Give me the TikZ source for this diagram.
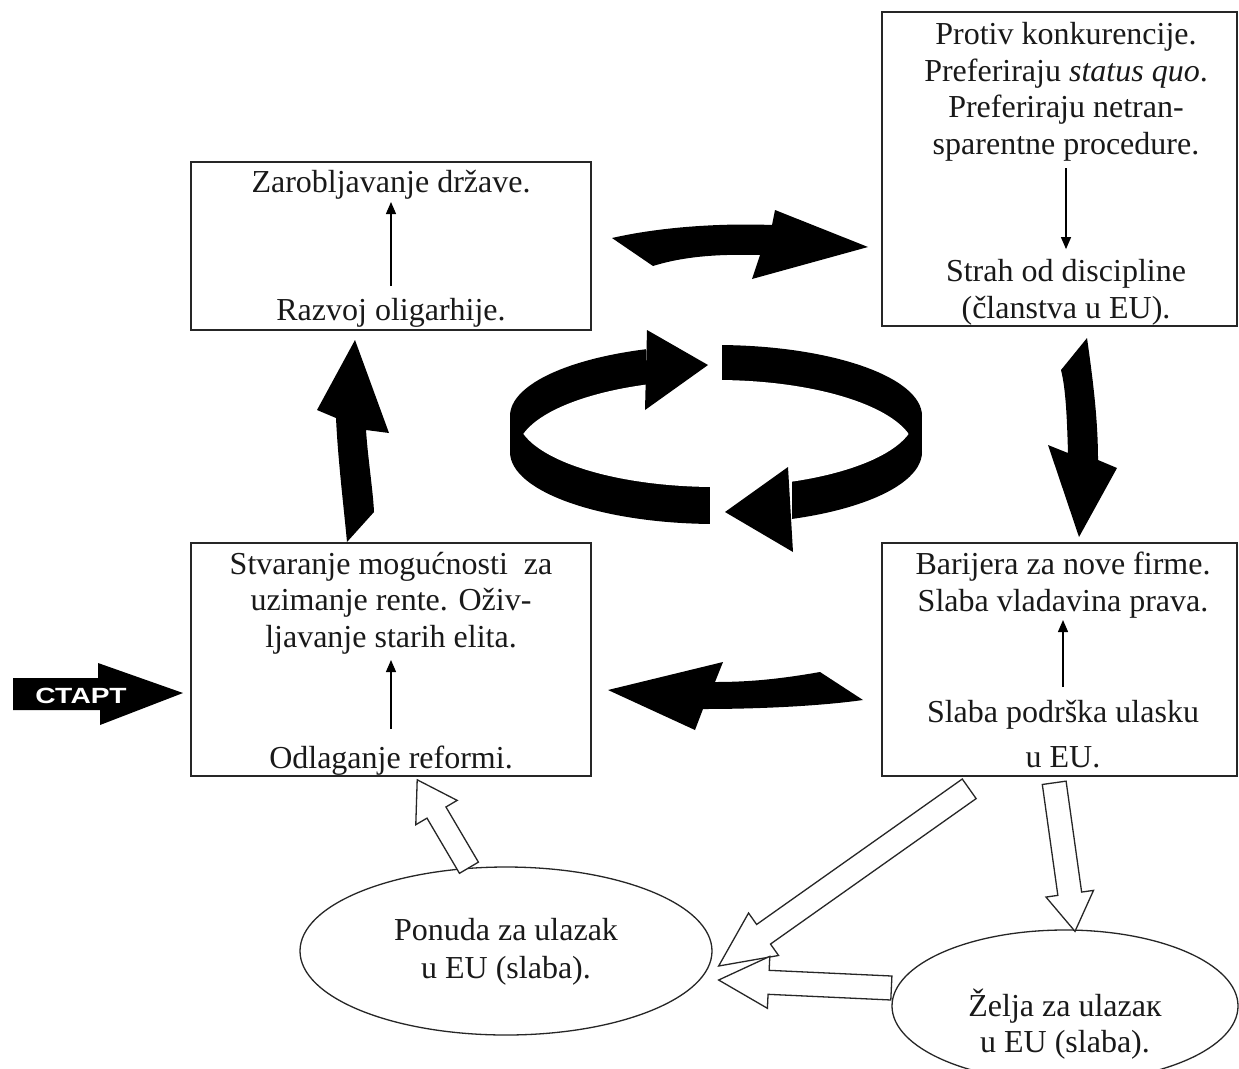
\documentclass[tikz,border=0pt]{standalone}
\usepackage{fontspec}
\setmainfont{Liberation Serif}
\newfontfamily\startfont{Liberation Sans}
\usepackage{graphicx}
\usetikzlibrary{calc,shapes.geometric,arrows.meta}

\tikzset{
  box/.style={draw=black!85, line width=1.6pt, rectangle, inner sep=0pt},
  oval/.style={draw=black!85, line width=1.3pt, ellipse, inner sep=0pt},
  txt/.style={font=\fontsize{32}{37}\selectfont, text=black!90, inner sep=0pt, anchor=base},
  sarrow/.style={line width=1.3pt, -{Triangle[length=12pt,width=10pt]}},
  hollow/.style={draw=black!85, line width=1.3pt, fill=white, line join=miter},
  solidarrow/.style={fill=black},
}

% #1 tail coordinate, #2 tip coordinate, #3 shaft half width, #4 head half width, #5 head length
\newcommand{\hollowarr}[5]{%
  \coordinate (ba-p) at ($#2!#5!#1$);
  \draw[hollow] ($#1!#3!90:#2$) -- ($(ba-p)!#3!90:#2$) -- ($(ba-p)!#4!90:#2$) -- #2
    -- ($(ba-p)!#4!-90:#2$) -- ($(ba-p)!#3!-90:#2$) -- ($#1!#3!-90:#2$) -- cycle;}

\begin{document}
\begin{tikzpicture}[x=1pt,y=-1pt]
\useasboundingbox (0,0) rectangle (1239,1068);
\fill[white] (0,0) rectangle (1239,1068);

% ---------- boxes ----------
\node[box, minimum width=400pt, minimum height=168pt] (A) at (391,246) {};
\node[box, minimum width=355pt, minimum height=314pt] (B) at (1059.5,169) {};
\node[box, minimum width=400pt, minimum height=233pt] (C) at (391,659.5) {};
\node[box, minimum width=355pt, minimum height=233pt] (D) at (1059.5,659.5) {};

% ---------- ellipses ----------
\node[oval, minimum width=412pt, minimum height=168pt] (E1) at (506,951) {};
\node[oval, minimum width=346pt, minimum height=152pt] (E2) at (1065,1006) {};

% ---------- texts ----------
\node[txt] (a1) at (391,192) {Zarobljavanje države.};
\node[txt] (a2) at (391,320) {Razvoj oligarhije.};
\draw[sarrow] ([yshift=11.5pt]a2.north) -- ([yshift=-3pt]a1.south);

\node[txt] (b1) at (1066,44) {Protiv konkurencije.};
\node[txt] (b2) at (1066,81) {Preferiraju \textit{status quo}.};
\node[txt] (b3) at (1066,117) {Preferiraju netran-};
\node[txt] (b4) at (1066,154) {sparentne procedure.};
\node[txt] (b5) at (1066,281) {Strah od discipline};
\node[txt] (b6) at (1066,318) {(članstva u EU).};
\draw[sarrow] ([yshift=-7pt]b4.south) -- ([yshift=9.5pt]b5.north);

\node[txt] (c1) at (391,574) {Stvaranje mogućnosti\ \ za};
\node[txt] (c2) at (391,610) {uzimanje rente. Oživ-};
\node[txt] (c3) at (391,647) {ljavanje starih elita.};
\node[txt] (c4) at (391,768) {Odlaganje reformi.};
\draw[sarrow] ([yshift=16.5pt]c4.north) -- ([yshift=-6pt]c3.south);

\node[txt] (d1) at (1063,574) {Barijera za nove firme.};
\node[txt] (d2) at (1063,611) {Slaba vladavina prava.};
\node[txt] (d3) at (1063,722) {Slaba podrška ulasku};
\node[txt] (d4) at (1063,767) {u EU.};
\draw[sarrow] ([yshift=12.5pt]d3.north) -- ([yshift=-2pt]d2.south);

\node[txt] (e1a) at (506,940) {Ponuda za ulazak};
\node[txt] (e1b) at (506,978) {u EU (slaba).};
\node[txt] (e2a) at (1065,1016) {Želja za ulazaк};
\node[txt] (e2b) at (1065,1052) {u EU (slaba).};

% ---------- black block arrows ----------
\fill[solidarrow] (612,238) .. controls (660,227) and (720,223) .. (772,225) -- (775,210) -- (868,247)
  -- (752,279) -- (760,255) .. controls (720,254) and (685,256) .. (653,266) -- cycle;
\fill[solidarrow] (1087,338) .. controls (1093,380) and (1098,420) .. (1098,460) -- (1117,468) -- (1079,537)
  -- (1048,445) -- (1068,453) .. controls (1067,420) and (1066,390) .. (1061,370) -- cycle;
\fill[solidarrow] (863,700) -- (820,672) .. controls (780,679) and (750,682) .. (715,682) -- (723,662) -- (608,690)
  -- (695,730) -- (703,709) .. controls (760,709) and (820,706) .. (863,700) -- cycle;
\fill[solidarrow] (355,340) -- (389,433) -- (366,430) .. controls (368,460) and (373,490) .. (374,512)
  -- (347,542) .. controls (343,500) and (338,460) .. (336,418) -- (317,410) -- cycle;

% ---------- central cycle ----------
\fill (716,416) ellipse [x radius=206pt, y radius=71pt];
\fill (716,452) ellipse [x radius=206pt, y radius=72pt];
\fill (510,416) rectangle (922,452);
\begin{scope}
  \clip (716,416) ellipse [x radius=199pt, y radius=71pt];
  \fill[white] (716,452) ellipse [x radius=199pt, y radius=72pt];
\end{scope}
\fill[white] (646,325) rectangle (722,400);
\fill[solidarrow] (647,330) -- (708,365) -- (645,410) -- cycle;
\fill[white] (710,460) rectangle (792,545);
\fill[solidarrow] (788,467) -- (725,512) -- (793,552) -- cycle;

% ---------- START ----------
\fill[solidarrow] (13,678) -- (98,678) -- (98,663) -- (183,693) -- (100,725) -- (100,710) -- (13,710) -- cycle;
\node[font=\startfont\bfseries\fontsize{22}{22}\selectfont, text=white, inner sep=0pt] (st) at (81,696)
  {\scalebox{1.28}[1]{СТАРТ}};

% ---------- hollow arrows ----------
\coordinate (h1t) at (E1.114);
\coordinate (h1h) at ($(C.south west)+(227,3)$);
\hollowarr{(h1t)}{(h1h)}{11pt}{24pt}{38pt}

\coordinate (h2t) at ($(D.south west)+(88,12)$);
\coordinate (h2h) at ($(E1.east)+(6,15)$);
\hollowarr{(h2t)}{(h2h)}{12pt}{26pt}{55pt}

\coordinate (h3t) at ($(E2.west)+(0,-18)$);
\coordinate (h3h) at ($(E1.east)+(6,29)$);
\hollowarr{(h3t)}{(h3h)}{12pt}{26pt}{50pt}

\coordinate (h4t) at ($(D.south west)+(173,6)$);
\coordinate (h4h) at ($(E2.north)+(10,2)$);
\hollowarr{(h4t)}{(h4h)}{12pt}{24pt}{38pt}

\end{tikzpicture}
\end{document}
